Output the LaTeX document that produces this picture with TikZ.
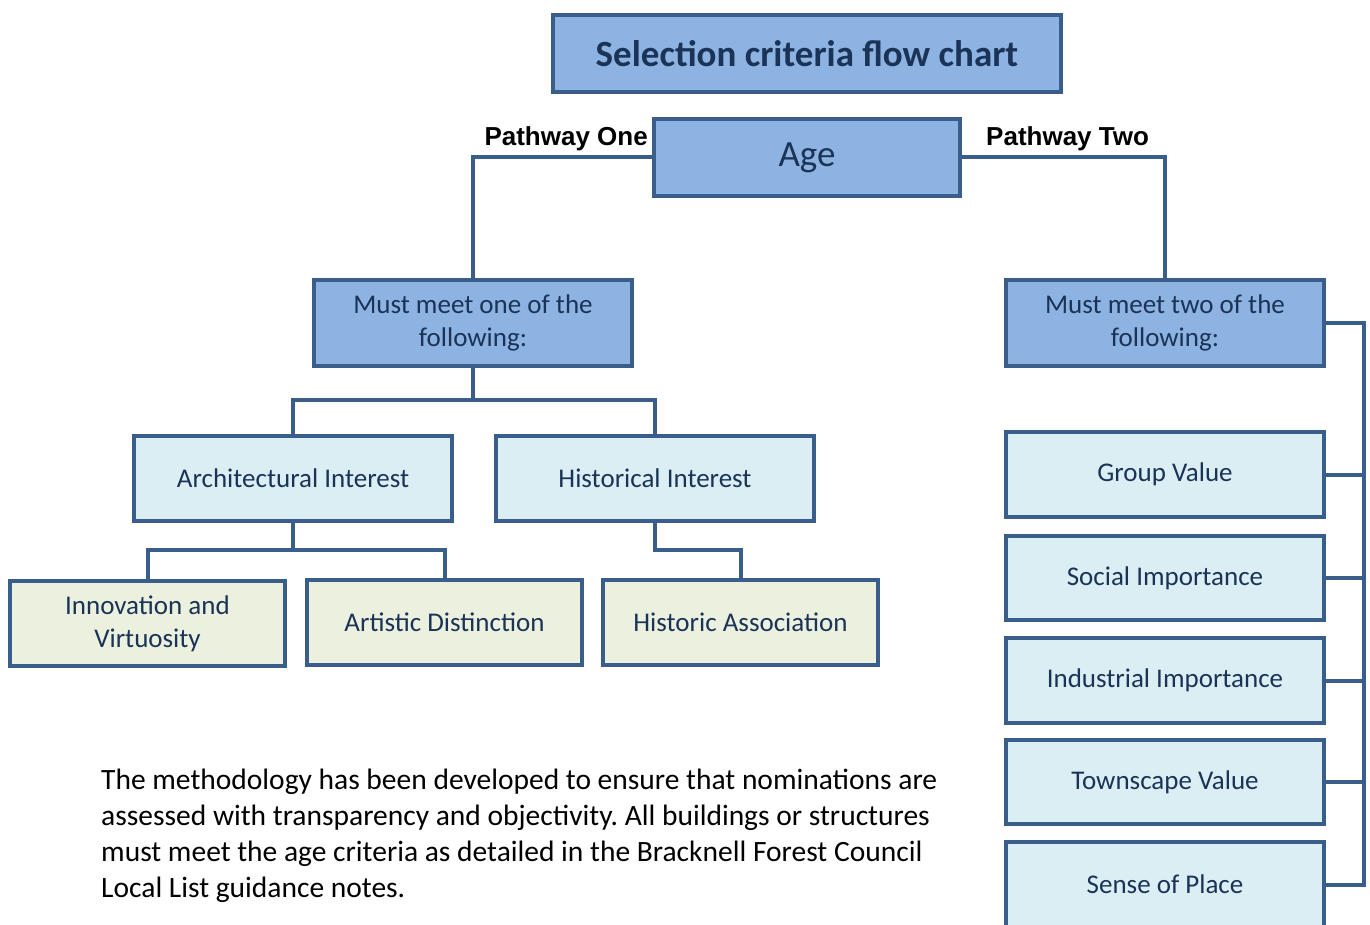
\documentclass[tikz,border=0pt]{standalone}
\usepackage{fontspec}
\setmainfont{Carlito}
\newfontfamily\pathfont{Liberation Sans}
\definecolor{boxline}{HTML}{3A5E8C}
\definecolor{darkfill}{HTML}{8DB3E2}
\definecolor{lightfill}{HTML}{DBEEF4}
\definecolor{greenfill}{HTML}{EBF1DE}
\definecolor{boxtext}{HTML}{1A3356}
\frenchspacing
\begin{document}
\begin{tikzpicture}[x=1pt,y=-1pt]
	\useasboundingbox (0,0) rectangle (1370,925);
	\begin{scope}[every node/.style={draw=boxline,line width=4pt,inner sep=0pt,align=center,text=boxtext,font=\fontsize{27}{33}\selectfont,minimum width=318pt,minimum height=85pt}]
		\node[fill=darkfill,minimum width=508pt,minimum height=77pt,font=\fontsize{37}{42}\selectfont\bfseries] (title) at (807,53.5) {Selection criteria flow chart};
		\node[fill=darkfill,minimum width=306pt,minimum height=77pt,font=\fontsize{37}{42}\selectfont] (age) at (807,157.5) {Age};
		\node[fill=darkfill,minimum height=86pt] (one) at (473,323) {Must meet one of the\\following:};
		\node[fill=darkfill,minimum height=86pt] (two) at (1165,323) {Must meet two of the\\following:};
		\node[fill=lightfill] (arch) at (293,478.5) {Architectural Interest};
		\node[fill=lightfill] (hist) at (655,478.5) {Historical Interest};
		\node[fill=greenfill,minimum width=275pt] (innov) at (147.5,623.5) {Innovation and\\Virtuosity};
		\node[fill=greenfill,minimum width=275pt] (art) at (444.5,622.5) {Artistic Distinction};
		\node[fill=greenfill,minimum width=275pt] (assoc) at (740.5,622.5) {Historic Association};
		\node[fill=lightfill] (group) at (1165,474.5) {Group Value};
		\node[fill=lightfill,minimum height=84pt] (social) at (1165,578) {Social Importance};
		\node[fill=lightfill] (indus) at (1165,680.5) {Industrial Importance};
		\node[fill=lightfill,minimum height=84pt] (town) at (1165,782) {Townscape Value};
		\node[fill=lightfill] (sense) at (1165,884.5) {Sense of Place};
	\end{scope}

	\begin{scope}[every node/.style={font=\pathfont\fontsize{26}{30}\selectfont\bfseries,inner sep=0pt}]
		\node[anchor=base east] (pone) at (648,146) {Pathway One};
		\node[anchor=base west] (ptwo) at (986,146) {Pathway Two};
	\end{scope}

	\coordinate (bus) at (1364,0);
	\begin{scope}[line width=4pt,draw=boxline]
		\draw[boxline] (age.west) -| (one.north);
		\draw[boxline] (age.east) -| (two.north);
		\draw[boxline] (one.south) -- ++(0,32) -| (arch.north) (one.south) -- ++(0,32) -| (hist.north);
		\draw[boxline] (arch.south) -- ++(0,27) -| (innov.north) (arch.south) -- ++(0,27) -| (art.north);
		\draw[boxline] (hist.south) -- ++(0,27) -| (assoc.north);
		\draw[boxline] (two.east) -| (sense.east -| bus) -- (sense.east);
		\foreach \n in {group,social,indus,town}
			\draw[boxline] (\n.east) -- (\n.east -| bus);
	\end{scope}

	\node[anchor=base west,align=left,inner sep=0pt,font=\fontsize{29.5}{36}\selectfont] (note) at (101,897) {The methodology has been developed to ensure that nominations are\\assessed with transparency and objectivity. All buildings or structures\\must meet the age criteria as detailed in the Bracknell Forest Council\\Local List guidance notes.};
\end{tikzpicture}
\end{document}
